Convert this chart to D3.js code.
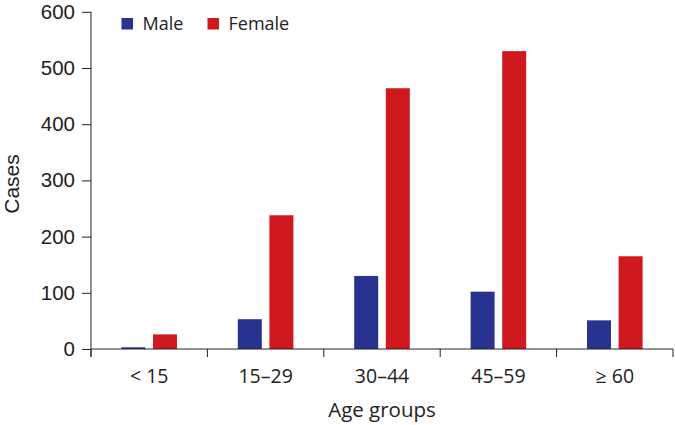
<!DOCTYPE html>
<html><head><meta charset="utf-8">
<script src="https://cdn.jsdelivr.net/npm/d3@7"></script>
<style>body{margin:0;background:#fff}</style>
</head><body>
<svg id="c" width="675" height="425"></svg>
<script>
const categories = ["< 15", "15\u201329", "30\u201344", "45\u201359", "\u2265 60"];
const seriesNames = ["Male", "Female"];
const maleValues = [3, 53, 130, 102, 51];
const femaleValues = [26, 238, 464, 530, 165];
const yTicks = [0, 100, 200, 300, 400, 500, 600];
const colors = {Male: "#27338f", Female: "#d0191e"};

const svg = d3.select("#c");
const mLeft = 91, mRight = 673, mTop = 11.8, mBottom = 349;
const x = d3.scaleBand().domain(categories).range([mLeft, mRight]);
const y = d3.scaleLinear().domain([0, 600]).range([mBottom, mTop]);
const barW = 24, gap = 7.6;
const sideFont = "'Open Sans', sans-serif";
const numFont = "'Liberation Sans', Arial, sans-serif";

const data = categories.map((c, i) => ({c, Male: maleValues[i], Female: femaleValues[i]}));

// bars
seriesNames.forEach((s, si) => {
  svg.append("g").selectAll("rect").data(data).join("rect")
    .attr("x", d => x(d.c) + x.bandwidth()/2 - (barW + gap/2) + si*(barW + gap))
    .attr("width", barW)
    .attr("y", d => y(d[s]))
    .attr("height", d => mBottom - y(d[s]))
    .attr("fill", colors[s]);
});

// y axis
const yAxis = svg.append("g").attr("transform", `translate(${mLeft},0)`)
  .call(d3.axisLeft(y).tickValues(yTicks).tickSize(9).tickPadding(7));
yAxis.select(".domain").attr("d", `M0,${mTop}V${mBottom+8}`);
yAxis.selectAll("line").attr("stroke", "#222");
yAxis.select(".domain").attr("stroke", "#222");
yAxis.selectAll("text").attr("font-family", numFont)
  .attr("font-size", 20.5).attr("fill", "#222");

// x axis
const xAxis = svg.append("g").attr("transform", `translate(0,${mBottom})`)
  .call(d3.axisBottom(x).tickSize(0));
xAxis.select(".domain").attr("d", `M${mLeft},0H${mRight}`).attr("stroke", "#222");
xAxis.selectAll("text").attr("font-family", sideFont)
  .attr("font-size", 19.5).attr("fill", "#222").attr("y", 33.7).attr("dy", 0);
const bounds = categories.map(c => x(c)).concat([mRight]);
xAxis.append("g").selectAll("line").data(bounds).join("line")
  .attr("x1", d => d).attr("x2", d => d).attr("y1", 0).attr("y2", 8)
  .attr("stroke", "#222");

// axis titles
svg.append("text").attr("x", 382).attr("y", 417.3)
  .attr("text-anchor", "middle").attr("font-family", sideFont)
  .attr("font-size", 20.5).attr("fill", "#222").text("Age groups");
svg.append("text").attr("transform", "translate(19,184) rotate(-90)")
  .attr("text-anchor", "middle").attr("font-family", numFont)
  .attr("font-size", 21).attr("fill", "#222").text("Cases");

// legend
const legX = [121.5, 207.5];
seriesNames.forEach((s, i) => {
  svg.append("rect").attr("x", legX[i]).attr("y", 18).attr("width", 11.5).attr("height", 11.5)
    .attr("fill", colors[s]);
  svg.append("text").attr("x", legX[i] + 21).attr("y", 29.5)
    .attr("font-family", sideFont).attr("font-size", 18)
    .attr("fill", "#222").text(s);
});
</script>
</body></html>
